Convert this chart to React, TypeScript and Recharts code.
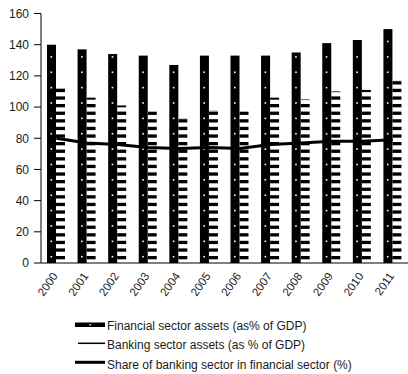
import React from 'react';
import { ComposedChart, Bar, Line, XAxis, YAxis } from 'recharts';

const years = ['2000', '2001', '2002', '2003', '2004', '2005', '2006', '2007', '2008', '2009', '2010', '2011'];
const financialAssets = [140, 137, 134, 133, 127, 133, 133, 133, 135, 141, 143, 150];
const bankingAssets = [112, 106, 101, 97, 93, 98, 97, 106, 105, 110, 111, 117];
const bankingShare = [80, 77, 76, 74, 73.5, 74, 73.5, 76, 77, 78, 78, 79];
const yTicks = [0, 20, 40, 60, 80, 100, 120, 140, 160];
const legendLabels = [
  'Financial sector assets (as% of GDP)',
  'Banking sector assets (as % of GDP)',
  'Share of banking sector in financial sector (%)',
];

const data = years.map((year, i) => ({
  year,
  financial: financialAssets[i],
  banking: bankingAssets[i],
  share: bankingShare[i],
}));

const FONT = '"Liberation Sans", Arial, sans-serif';

// black bar with a column of small white dots
const DottedBar = (props: any) => {
  const { x, y, width, height } = props;
  const base = y + height;
  const dots = [];
  for (let k = 0; ; k++) {
    const cy = base - 6.3 - k * 15.37;
    if (cy < y + 2) break;
    dots.push(<rect key={k} x={x + width / 2 - 1} y={cy - 0.8} width={1.6} height={1.6} fill="#fff" />);
  }
  return (
    <g>
      <rect x={x} y={y} width={width} height={height} fill="#000" />
      {dots}
    </g>
  );
};

// white bar with horizontal black stripes
const StripedBar = (props: any) => {
  const { x, y, width, height } = props;
  const base = y + height;
  const stripes = [];
  for (let k = 0; ; k++) {
    const top = base - 7 - k * 7.6;
    const bottom = top + 3.3;
    if (bottom <= y) break;
    const t = Math.max(top, y);
    stripes.push(<rect key={k} x={x} y={t} width={width} height={bottom - t} fill="#000" />);
  }
  return (
    <g>
      <rect x={x} y={y} width={width} height={1} fill="#c8c8c8" />
      {stripes}
    </g>
  );
};

const YearTick = (props: any) => {
  const { x, y, payload } = props;
  const ax = x + 2;
  const ay = y + 13;
  return (
    <text
      x={ax}
      y={ay}
      textAnchor="end"
      transform={`rotate(-55, ${ax}, ${ay})`}
      fontSize={11.5}
      fontFamily={FONT}
      fill="#1a1a1a"
    >
      {payload.value}
    </text>
  );
};

const Legend = () => (
  <svg width={408} height={374} style={{ position: 'absolute', left: 0, top: 0, pointerEvents: 'none' }}>
    <g>
      <rect x={75} y={322.5} width={30} height={4.5} fill="#000" />
      <rect x={89.5} y={324} width={1.4} height={1.4} fill="#fff" />
    </g>
    <line x1={78} x2={105} y1={343.3} y2={343.3} stroke="#000" strokeWidth={1.5} />
    <line x1={75} x2={105} y1={362.3} y2={362.3} stroke="#000" strokeWidth={3} />
    {legendLabels.map((label, i) => (
      <text key={label} x={107} y={329.5 + i * 19.8} fontSize={12} fontFamily={FONT} fill="#1a1a1a">
        {label}
      </text>
    ))}
  </svg>
);

export default function App() {
  return (
    <div style={{ position: 'absolute', left: 0, top: 0, width: 408, height: 374, background: '#fff' }}>
      <ComposedChart
        width={408}
        height={374}
        data={data}
        margin={{ top: 13.5, right: 0, bottom: 0, left: 0 }}
        barGap={0}
      >
        <XAxis
          dataKey="year"
          interval={0}
          height={111}
          tickLine={false}
          tickSize={0}
          tickMargin={0}
          axisLine={{ stroke: '#000' }}
          tick={<YearTick />}
        />
        <YAxis
          width={41}
          domain={[0, 160]}
          ticks={yTicks}
          interval={0}
          tickSize={7}
          tickMargin={5}
          axisLine={{ stroke: '#000' }}
          tickLine={{ stroke: '#000' }}
          tick={{ fill: '#1a1a1a', fontSize: 12, fontFamily: FONT }}
        />
        <Bar dataKey="financial" barSize={9} shape={<DottedBar />} isAnimationActive={false} />
        <Bar dataKey="banking" barSize={9} shape={<StripedBar />} isAnimationActive={false} />
        <Line
          type="linear"
          dataKey="share"
          stroke="#000"
          strokeWidth={3}
          dot={false}
          activeDot={false}
          isAnimationActive={false}
        />
      </ComposedChart>
      <Legend />
    </div>
  );
}
